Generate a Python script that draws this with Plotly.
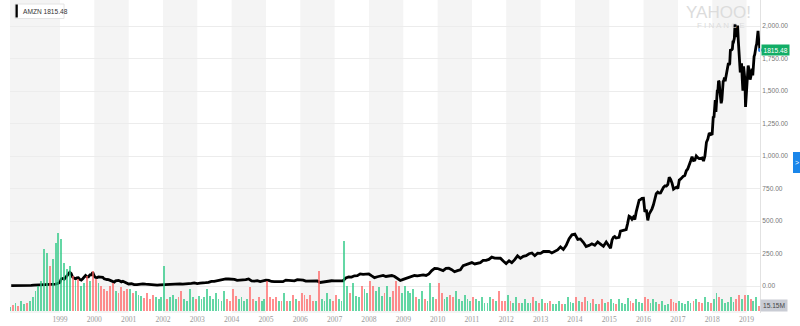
import pandas as pd
import plotly.graph_objects as go

# ---------------- data ----------------
# AMZN closing prices (USD), split-adjusted, in segments of differing resolution
close_1997_98 = [2.4, 2.0, 3.7, 3.2, 3.6, 5.0,            # Jul-Dec 1997 (monthly)
                 4.9, 5.5, 7.3, 7.8, 8.1, 8.3, 9.6, 10.8, 8.6]  # Jan-Sep 1998

close_1998_2000 = [  # half-monthly, Oct 1998 - Dec 2000
    8.5, 11.3, 14.0, 17.6, 20.5, 26.8,
    55.0, 58.5, 52.0, 64.0, 70.0, 89.1, 105.0, 95.5, 68.0, 60.7, 55.0, 62.6,
    64.0, 50.6, 46.0, 56.0, 66.0, 81.2, 71.0, 70.6, 85.0, 85.1, 105.0, 76.1,
    66.0, 64.6, 70.0, 68.9, 67.0, 67.0, 55.0, 55.2, 50.0, 48.3, 44.0, 36.3,
    36.0, 30.1, 39.0, 41.5, 43.0, 38.4, 32.0, 36.6, 30.0, 24.9, 19.0, 15.6,
]

close_2001_2014 = [  # monthly
    17.3, 10.2, 10.2, 15.8, 16.7, 14.2, 12.5, 9.2, 6.0, 6.9, 9.2, 10.8,
    14.2, 14.1, 14.3, 16.7, 18.2, 16.3, 14.4, 14.9, 15.9, 19.4, 23.4, 18.9,
    21.9, 22.0, 26.0, 28.7, 35.9, 36.3, 41.6, 46.3, 48.4, 54.4, 54.0, 52.6,
    50.4, 43.0, 43.3, 43.6, 48.5, 54.4, 38.9, 38.1, 40.9, 34.1, 39.7, 44.3,
    43.2, 34.9, 34.3, 32.4, 35.5, 33.1, 45.2, 42.7, 45.3, 39.9, 48.5, 47.2,
    44.8, 37.4, 36.5, 35.2, 34.6, 38.7, 27.0, 30.8, 32.1, 38.1, 40.3, 39.5,
    37.7, 39.1, 39.8, 61.3, 69.1, 68.4, 78.5, 79.9, 93.2, 89.2, 90.6, 92.6,
    77.7, 64.5, 71.3, 78.6, 81.6, 73.3, 76.3, 80.8, 72.8, 57.2, 42.7, 51.3,
    58.8, 64.8, 73.4, 80.5, 78.0, 83.7, 85.8, 81.2, 93.4, 118.8, 135.9, 134.5,
    125.4, 118.4, 135.8, 137.1, 125.5, 109.3, 117.9, 124.8, 157.1, 165.2, 175.4, 180.0,
    169.6, 173.3, 180.1, 196.7, 196.7, 204.5, 222.5, 215.0, 216.2, 213.5, 192.3, 173.1,
    194.4, 179.7, 202.5, 231.9, 212.9, 228.4, 233.3, 248.3, 254.3, 232.9, 252.1, 250.9,
    265.5, 264.3, 266.5, 253.8, 269.2, 277.7, 301.2, 281.0, 312.6, 364.0, 393.6, 398.8,
    358.7, 362.1, 336.4, 304.1, 312.6, 324.8, 313.0, 339.0, 322.4, 305.5, 338.6, 310.4,
]

close_2015_2017 = [  # half-monthly
    290.0, 354.5, 375.0, 380.2, 370.0, 372.1, 375.0, 421.8, 425.0, 429.2, 435.0, 434.1,
    480.0, 536.2, 530.0, 512.9, 530.0, 511.9, 570.0, 625.9, 660.0, 664.8, 675.0, 675.9,
    570.0, 587.0, 505.0, 552.5, 570.0, 593.6, 625.0, 659.6, 710.0, 722.8, 715.0, 715.6,
    740.0, 758.8, 770.0, 769.2, 780.0, 837.3, 820.0, 789.8, 745.0, 750.6, 760.0, 749.9,
    815.0, 823.5, 840.0, 845.0, 850.0, 886.5, 900.0, 925.0, 960.0, 994.6, 965.0, 968.0,
    1000.0, 987.8, 980.0, 980.6, 985.0, 961.4, 1000.0, 1105.3, 1130.0, 1176.8, 1165.0, 1169.5,
]

close_2018_2019 = [  # weekly (Fridays), then the last session
    1229.1, 1305.2, 1294.6, 1402.1, 1430.0, 1339.6, 1448.7, 1500.0,
    1500.3, 1578.9, 1571.7, 1495.6, 1447.3, 1405.2, 1430.8, 1527.8, 1572.6,
    1580.2, 1602.9, 1574.4, 1610.2, 1641.5, 1684.0, 1716.0, 1715.7, 1699.8,
    1710.6, 1813.0, 1813.7, 1817.3, 1823.3, 1886.3, 1882.2, 1905.4, 2012.7,
    1952.1, 1970.2, 1915.0, 2003.0, 1889.7, 1788.6, 1764.0, 1642.8,
    1665.5, 1712.4, 1593.4, 1502.1, 1690.2, 1629.1, 1591.9, 1377.5, 1478.0,
    1575.4, 1640.6, 1696.2, 1670.6, 1626.2, 1588.2, 1608.0, 1631.6,
    1671.7, 1620.8, 1712.4, 1764.8, 1780.8, 1837.3, 1843.1, 1861.7, 1950.6,
    1962.5, 1890.0, 1869.0, 1815.48,
]

# monthly traded volume (millions of shares), Jul 1997 - May 2019
volume_m = [
    12, 18, 24, 15, 30, 21,
    24, 30, 42, 60, 75, 90, 186, 174, 135, 156, 204, 234,
    216, 144, 126, 135, 105, 90, 96, 75, 84, 105, 90, 120,
    96, 84, 75, 66, 60, 75, 84, 60, 54, 72, 60, 66,
    66, 54, 60, 48, 45, 39, 54, 36, 48, 42, 36, 42,
    135, 36, 42, 48, 36, 42, 60, 36, 30, 66, 42, 36,
    45, 36, 42, 66, 45, 36, 54, 36, 30, 60, 36, 30,
    66, 45, 36, 42, 30, 36, 72, 36, 30, 42, 30, 36,
    90, 42, 36, 42, 30, 30, 54, 30, 30, 48, 36, 30,
    54, 48, 36, 48, 30, 30, 120, 36, 30, 54, 36, 30,
    48, 36, 30, 210, 75, 54, 84, 45, 42, 75, 66, 54,
    90, 75, 60, 72, 45, 54, 75, 42, 60, 90, 75, 54,
    75, 60, 54, 66, 42, 36, 60, 36, 30, 84, 42, 36,
    84, 54, 36, 42, 48, 42, 60, 36, 30, 48, 36, 30,
    42, 36, 30, 42, 24, 24, 42, 36, 30, 60, 30, 30,
    48, 30, 24, 42, 24, 24, 36, 24, 24, 42, 30, 24,
    36, 24, 24, 30, 21, 21, 30, 21, 21, 42, 27, 24,
    42, 30, 27, 42, 30, 24, 36, 21, 21, 36, 24, 27,
    36, 24, 21, 36, 24, 21, 39, 30, 24, 36, 27, 24,
    42, 36, 24, 36, 27, 21, 30, 18, 21, 36, 27, 24,
    30, 24, 21, 30, 24, 30, 36, 27, 24, 42, 27, 24,
    36, 54, 42, 36, 24, 27, 42, 27, 36, 48, 36, 48,
    48, 36, 30, 42, 15.15,
]

years = list(range(1999, 2020))
price_ticks = [0, 250, 500, 750, 1000, 1250, 1500, 1750, 2000]
symbol = "AMZN"


# ---------------- dates ----------------
def month_ends(start, end):
    return [m + pd.offsets.MonthEnd(0) for m in pd.date_range(start, end, freq="MS")]


def half_months(start, end):
    out = []
    for m in pd.date_range(start, end, freq="MS"):
        out.append(m + pd.Timedelta(days=14))
        out.append(m + pd.offsets.MonthEnd(0))
    return out


dates = (month_ends("1997-07-01", "1998-09-01")
         + half_months("1998-10-01", "2000-12-01")
         + month_ends("2001-01-01", "2014-12-01")
         + half_months("2015-01-01", "2017-12-01")
         + list(pd.date_range("2018-01-05", "2019-05-17", freq="W-FRI"))
         + [pd.Timestamp("2019-05-23")])
closes = close_1997_98 + close_1998_2000 + close_2001_2014 + close_2015_2017 + close_2018_2019
assert len(dates) == len(closes), (len(dates), len(closes))
price = pd.Series(closes, index=pd.DatetimeIndex(dates))

vol_months = pd.date_range("1997-07-01", "2019-05-01", freq="MS")
assert len(vol_months) == len(volume_m), (len(vol_months), len(volume_m))
vol_x = [m + pd.Timedelta(days=14) for m in vol_months]

# bar colour follows the month's price direction
month_close = price.groupby(price.index.to_period("M")).last()
month_close = month_close.reindex(vol_months.to_period("M")).ffill()
up = (month_close.diff().fillna(0) >= 0).tolist()
GREEN = "rgba(40,200,130,0.72)"
RED = "rgba(255,95,95,0.70)"
vol_colors = [GREEN if u else RED for u in up]

last_price = closes[-1]
last_volume = volume_m[-1]

# ---------------- figure ----------------
W, H = 800, 326
ML, MR, MT, MB = 10, 40, 0, 13
PW, PH = W - ML - MR, H - MT - MB


def px_x(p):
    return (p - ML) / PW


def px_y(p):
    return 1 - (p - MT) / PH


fig = go.Figure()

fig.add_trace(go.Bar(
    x=vol_x, y=volume_m, yaxis="y2",
    marker=dict(color=vol_colors, line=dict(width=0)),
    width=20 * 86400000, hoverinfo="skip", showlegend=False,
))
fig.add_trace(go.Scatter(
    x=price.index, y=price.values, mode="lines",
    line=dict(color="#000000", width=2.8),
    name=symbol, showlegend=False,
))
# current price marker on the right edge
fig.add_trace(go.Scatter(
    x=[price.index[-1]], y=[last_price], mode="markers",
    marker=dict(color="#2f7fe0", size=4), showlegend=False, cliponaxis=False,
))

shapes = []
# alternating year bands
band_edges = [pd.Timestamp("1997-07-18")] + [pd.Timestamp(f"{y}-01-01") for y in years] + [pd.Timestamp("2019-05-24")]
for i in range(len(band_edges) - 1):
    if i % 2 == 0:
        shapes.append(dict(type="rect", xref="x", yref="paper",
                           x0=band_edges[i], x1=band_edges[i + 1], y0=0, y1=1,
                           fillcolor="#f4f4f4", line=dict(width=0), layer="below"))

# legend chip
shapes.append(dict(type="rect", xref="paper", yref="paper",
                   x0=px_x(15), x1=px_x(64), y0=px_y(18.5), y1=px_y(4),
                   fillcolor="#ffffff", line=dict(color="#e4e4e4", width=1)))
shapes.append(dict(type="rect", xref="paper", yref="paper",
                   x0=px_x(15.5), x1=px_x(17.8), y0=px_y(17.5), y1=px_y(4.5),
                   fillcolor="#000000", line=dict(width=0)))
# side tab
shapes.append(dict(type="rect", xref="paper", yref="paper",
                   x0=px_x(793), x1=px_x(801), y0=px_y(173), y1=px_y(152),
                   fillcolor="#1a86ea", line=dict(width=0)))

annotations = [
    dict(xref="paper", yref="paper", x=px_x(20.5), y=px_y(11.2), xanchor="left", yanchor="middle",
         text=f"{symbol} {last_price:.2f}", showarrow=False,
         font=dict(family="Liberation Sans, Arial", size=6.6, color="#333333")),
    dict(xref="paper", yref="y", x=1.0, y=last_price, xanchor="left", yanchor="middle", xshift=1,
         text=f"{last_price:.2f}", showarrow=False, bgcolor="#12ad66", borderpad=1.5,
         font=dict(family="Liberation Sans, Arial", size=6.6, color="#ffffff")),
    dict(xref="paper", yref="y2", x=1.0, y=last_volume, xanchor="left", yanchor="middle",
         text=f"{last_volume:.2f}M", showarrow=False, bgcolor="#c9ccd4", borderpad=2,
         font=dict(family="Liberation Sans, Arial", size=6.6, color="#444444")),
    dict(xref="paper", yref="paper", x=px_x(797), y=px_y(162.5), xanchor="center", yanchor="middle",
         text=">", showarrow=False, font=dict(family="Liberation Sans", size=7, color="#ffffff")),
    dict(xref="paper", yref="paper", x=px_x(753), y=px_y(12), xanchor="right", yanchor="middle",
         text="YAHOO!", showarrow=False,
         font=dict(family="Liberation Sans, Arial", size=17, color="#dcdcdc")),
    dict(xref="paper", yref="paper", x=px_x(747), y=px_y(25), xanchor="right", yanchor="middle",
         text="F I N A N C E", showarrow=False,
         font=dict(family="Liberation Sans, Arial", size=8, color="#dcdcdc")),
]

# price axis: 0 -> 286px, 2000 -> 26px (from the top of the page)
p_per_px = 2000 / (286 - 26)
y_range = [-(MT + PH - 286) * p_per_px, 2000 + (26 - MT) * p_per_px]
# volume axis: bars start at 311px, 3M shares per pixel
v_per_px = 3.0
y2_range = [-(MT + PH - 311) * v_per_px, (311 - MT) * v_per_px]

fig.update_layout(
    width=W, height=H,
    margin=dict(l=ML, r=MR, t=MT, b=MB),
    paper_bgcolor="#ffffff", plot_bgcolor="#ffffff",
    showlegend=False, bargap=0,
    shapes=shapes, annotations=annotations,
    xaxis=dict(
        type="date", range=["1997-07-18", "2019-05-24"],
        tickvals=[f"{y}-01-01" for y in years], ticktext=[str(y) for y in years],
        tickfont=dict(family="Liberation Serif, Times New Roman", size=7.6, color="#9a9a9a"),
        showgrid=False, zeroline=False, showline=False, ticks="",
    ),
    yaxis=dict(
        side="right", range=y_range,
        tickvals=price_ticks, ticktext=[f"{v:,.2f}" for v in price_ticks],
        tickfont=dict(family="Liberation Sans, Arial", size=6.6, color="#777777"),
        showgrid=True, gridcolor="#ececec", gridwidth=1, zeroline=False,
        showline=True, linecolor="#e2e2e2", linewidth=1, ticks="",
    ),
    yaxis2=dict(overlaying="y", range=y2_range, visible=False, showgrid=False),
)

fig.write_html("out.html")
